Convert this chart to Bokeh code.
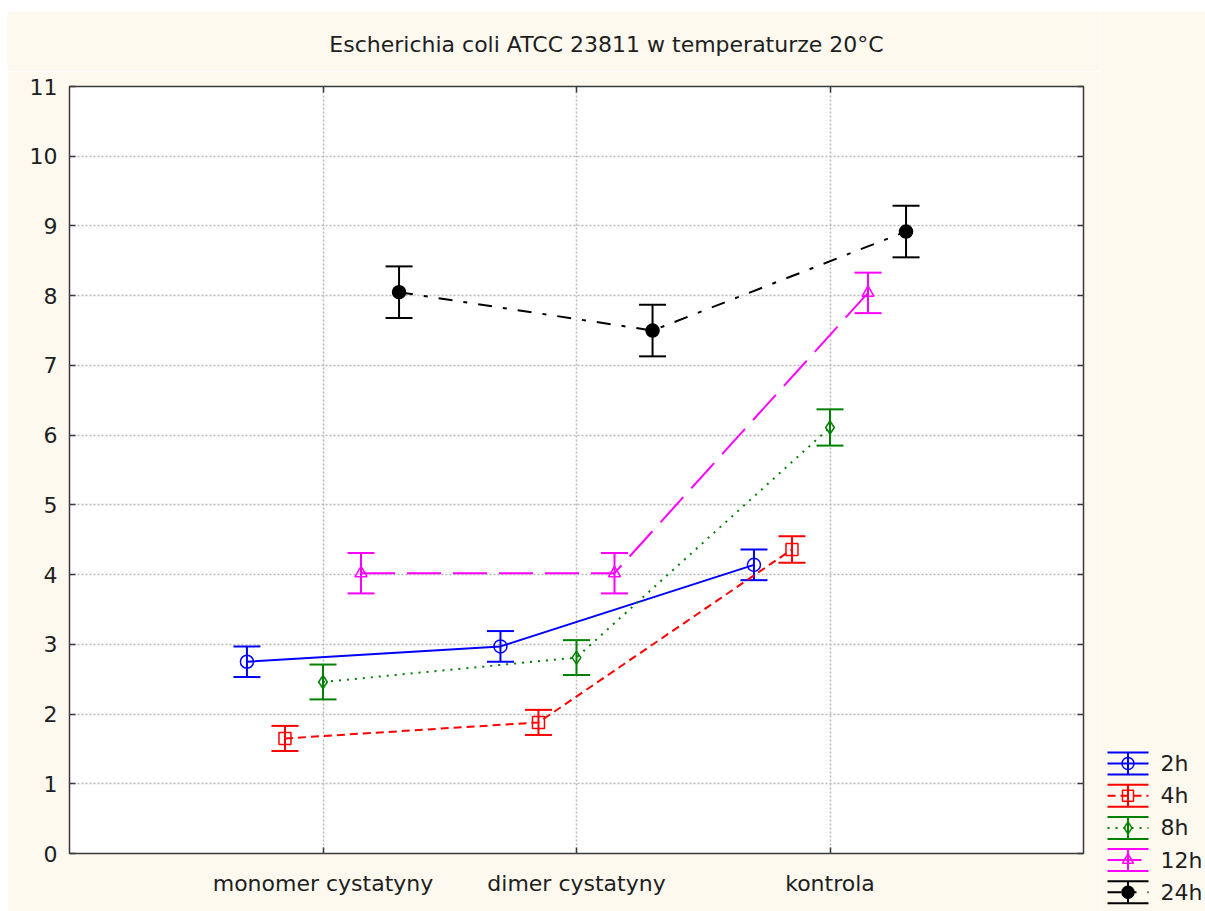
from bokeh.plotting import figure
from bokeh.models import (ColumnDataSource, Whisker, TeeHead, Range1d, FixedTicker,
                          LinearAxis, Spacer)
from bokeh.layouts import row, column
from bokeh.core.properties import value
from bokeh.embed import file_html
from bokeh.resources import INLINE

# --- data -------------------------------------------------------------
title_text = "Escherichia coli ATCC 23811 w temperaturze 20°C"
groups = ["monomer cystatyny", "dimer cystatyny", "kontrola"]
series = ["2h", "4h", "8h", "12h", "24h"]

mean_2h = [2.75, 2.97, 4.14]
mean_4h = [1.65, 1.88, 4.36]
mean_8h = [2.46, 2.81, 6.11]
mean_12h = [4.02, 4.02, 8.04]
mean_24h = [8.05, 7.50, 8.92]

err_2h = [0.22, 0.22, 0.22]
err_4h = [0.18, 0.18, 0.19]
err_8h = [0.25, 0.25, 0.26]
err_12h = [0.29, 0.29, 0.29]
err_24h = [0.37, 0.37, 0.37]

y_ticks = list(range(0, 12))

# --- styles -----------------------------------------------------------
FONT = "DejaVu Sans"
FONT_SIZE = "22px"
TEXT_COLOR = "#1e1e1e"
CREAM = "#fdf9ef"
FRAME = "#3a3a3a"

means = [mean_2h, mean_4h, mean_8h, mean_12h, mean_24h]
errs = [err_2h, err_4h, err_8h, err_12h, err_24h]
offsets = [-0.30, -0.15, 0.0, 0.15, 0.30]
colors = ["#0000ff", "#ff0000", "#008000", "#ff00ff", "#000000"]
markers = ["circle", "square", "diamond", "triangle", "circle"]
marker_sizes = [13, 12, 13, 12, 13]
fills = [None, None, None, None, "#000000"]
dashes = ["solid", "8 5", "2 6", "34 12", "14 11 4 11"]

MAIN_W = 1093
TITLE_H = 60
TOTAL_H = 900
LG_W = 105


def blank_panel(w, h):
    """A cream panel with pixel coordinates (y grows downward)."""
    f = figure(width=w, height=h, output_backend="svg", toolbar_location=None,
               x_range=Range1d(0, w), y_range=Range1d(h, 0), min_border=0)
    f.axis.visible = False
    f.grid.visible = False
    f.outline_line_color = None
    f.background_fill_color = CREAM
    f.border_fill_color = CREAM
    return f


# --- title strip ------------------------------------------------------
tp = blank_panel(MAIN_W, TITLE_H)
tp.text([599], [33], text=[title_text], text_font=value(FONT),
        text_font_size=FONT_SIZE, text_color=TEXT_COLOR,
        text_align="center", text_baseline="middle")

# --- main chart -------------------------------------------------------
p = figure(width=MAIN_W, height=TOTAL_H - TITLE_H, output_backend="svg",
           toolbar_location=None,
           x_range=Range1d(0, 4), y_range=Range1d(0, 11),
           min_border_left=62, min_border_right=17,
           min_border_top=15, min_border_bottom=58)
p.background_fill_color = "white"
p.border_fill_color = CREAM
p.outline_line_color = FRAME
p.outline_line_width = 1.5

xticker = FixedTicker(ticks=[1, 2, 3])
yticker = FixedTicker(ticks=y_ticks)

for ax in p.xaxis:
    ax.ticker = xticker
    ax.major_label_overrides = {i + 1: g for i, g in enumerate(groups)}
for ax in p.yaxis:
    ax.ticker = yticker

for ax in list(p.xaxis) + list(p.yaxis):
    ax.axis_line_color = None
    ax.major_tick_in = 6
    ax.major_tick_out = 0
    ax.major_tick_line_color = FRAME
    ax.major_tick_line_width = 1.5
    ax.minor_tick_line_color = None
    ax.major_label_text_font = FONT
    ax.major_label_text_font_size = FONT_SIZE
    ax.major_label_text_color = TEXT_COLOR
p.xaxis.major_label_standoff = 17
p.yaxis.major_label_standoff = 12

# tick marks repeated along the top and right edges
for loc, tk in (("above", xticker), ("right", yticker)):
    mirror = LinearAxis(ticker=tk, major_label_text_color=None,
                        major_tick_in=6, major_tick_out=0, axis_line_color=None,
                        major_tick_line_color=FRAME, major_tick_line_width=1.5,
                        minor_tick_line_color=None, major_label_standoff=0)
    p.add_layout(mirror, loc)

p.xgrid.ticker = xticker
p.ygrid.ticker = yticker
for g in (p.xgrid, p.ygrid):
    g.grid_line_color = "#b8b8b8"
    g.grid_line_dash = "2 2"
    g.grid_line_width = 1.5

for name, m, e, off, c, mk, ms, fc, d in zip(series, means, errs, offsets, colors,
                                              markers, marker_sizes, fills, dashes):
    xs = [i + 1 + off for i in range(len(groups))]
    src = ColumnDataSource(dict(x=xs, y=m,
                                lower=[a - b for a, b in zip(m, e)],
                                upper=[a + b for a, b in zip(m, e)]))
    p.line("x", "y", source=src, line_color=c, line_width=2, line_dash=d)
    w = Whisker(base="x", lower="lower", upper="upper", source=src,
                line_color=c, line_width=2,
                upper_head=TeeHead(size=27, line_color=c, line_width=2),
                lower_head=TeeHead(size=27, line_color=c, line_width=2))
    p.add_layout(w)
    p.scatter("x", "y", source=src, marker=mk, size=ms, line_color=c,
              line_width=1.5, fill_color=fc)

# --- legend column ----------------------------------------------------
lg = blank_panel(LG_W, TOTAL_H)

row_top = 752
row_step = 32.2
sw_left, sw_right = 7, 48
cap = 11
mid = (sw_left + sw_right) / 2

for i, (name, c, mk, ms, fc, d) in enumerate(zip(series, colors, markers,
                                                 marker_sizes, fills, dashes)):
    yc = row_top + i * row_step
    lg.line([sw_left, sw_right], [yc, yc], line_color=c, line_width=2, line_dash=d)
    lg.multi_line([[sw_left, sw_right], [sw_left, sw_right], [mid, mid]],
                  [[yc - cap, yc - cap], [yc + cap, yc + cap], [yc - cap, yc + cap]],
                  line_color=c, line_width=2)
    lg.scatter([mid], [yc], marker=mk, size=ms - 1, line_color=c, line_width=1.5,
               fill_color=fc)
    lg.text([60], [yc], text=[name], text_font=value(FONT),
            text_font_size=FONT_SIZE, text_color=TEXT_COLOR,
            text_baseline="middle", text_align="left")

chart_col = column(row(tp), p)
layout = column(Spacer(height=11), row(Spacer(width=7), chart_col, column(lg)))

open("out.html", "w").write(file_html(layout, INLINE))
